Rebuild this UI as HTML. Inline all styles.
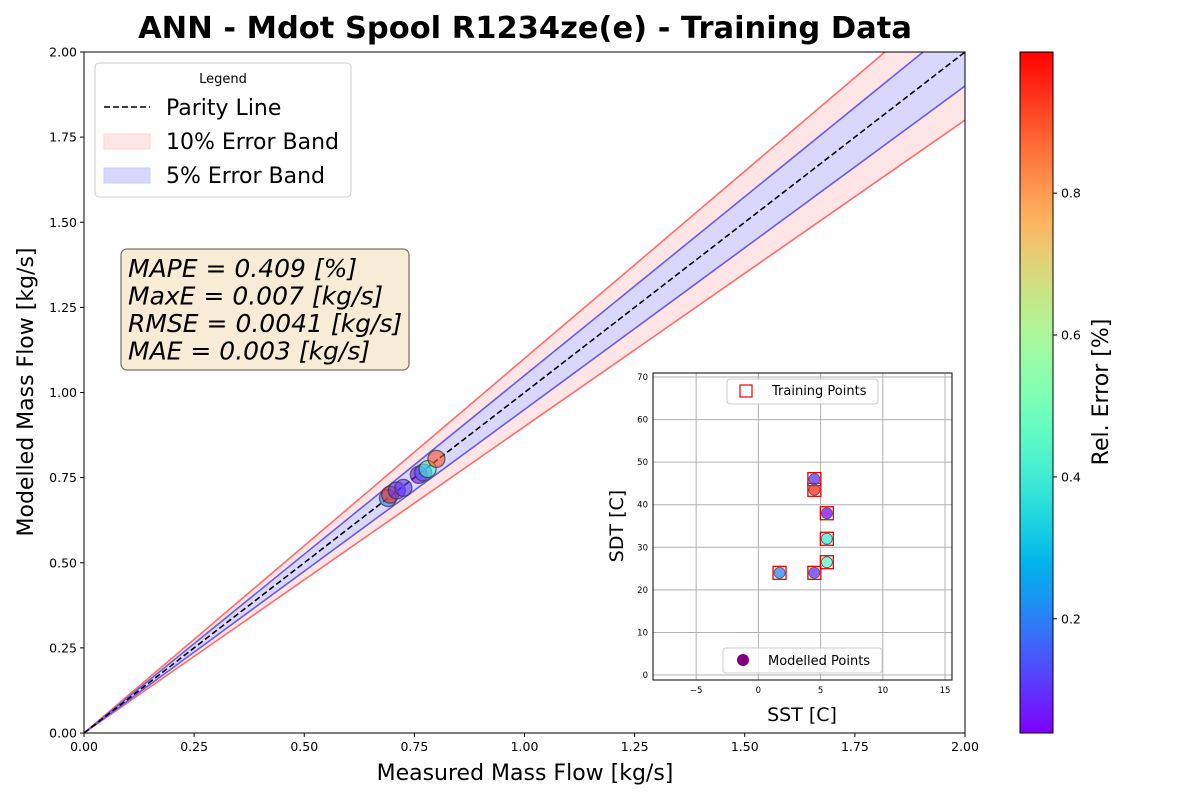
<!DOCTYPE html>
<html><head><meta charset="utf-8"><style>body{margin:0;background:#fff}svg{display:block;font-family:"DejaVu Sans","Liberation Sans",sans-serif}</style></head>
<body>
<svg id="chart" width="1200" height="800" xmlns="http://www.w3.org/2000/svg">
<defs>
<clipPath id="mainclip"><rect x="84" y="52" width="881" height="681"/></clipPath>
<linearGradient id="cbgrad" x1="0" y1="1" x2="0" y2="0"></linearGradient>
</defs>
<g id="main"></g>
<g id="inset"></g>
<g id="cbar"></g>
</svg>
<script>
const mainTicks = [0, 0.25, 0.5, 0.75, 1.0, 1.25, 1.5, 1.75, 2.0];
const mainTickLabels = ["0.00","0.25","0.50","0.75","1.00","1.25","1.50","1.75","2.00"];
const measured = [0.69, 0.695, 0.71, 0.725, 0.76, 0.77, 0.78, 0.80];
const modelled = [0.69, 0.70, 0.712, 0.72, 0.758, 0.765, 0.775, 0.805];
const relErr = [0.2, 0.95, 0.1, 0.1, 0.05, 0.15, 0.42, 0.9];
const insetSST = [1.7, 4.5, 5.5, 5.5, 5.5, 4.5, 4.5];
const insetSDT = [24, 24, 26.5, 32, 38, 43.5, 46];
const insetErr = [0.2, 0.1, 0.45, 0.4, 0.05, 0.95, 0.1];
const insetXTicks = [-5, 0, 5, 10, 15];
const insetYTicks = [0, 10, 20, 30, 40, 50, 60, 70];
const cbTicks = [0.2, 0.4, 0.6, 0.8];
const metrics = ["MAPE = 0.409 [%]", "MaxE = 0.007 [kg/s]", "RMSE = 0.0041 [kg/s]", "MAE = 0.003 [kg/s]"];

const NS = "http://www.w3.org/2000/svg";
function mk(tag, attrs, parent, text){const e=document.createElementNS(NS,tag);for(const k in attrs)e.setAttribute(k,attrs[k]);if(text!==undefined)e.textContent=text;parent.appendChild(e);return e;}
function rainbow(t){t=Math.max(0,Math.min(1,t));const r=Math.min(1,Math.abs(2*t-0.5)),g=Math.sin(Math.PI*t),b=Math.cos(Math.PI/2*t);return `rgb(${Math.round(r*255)},${Math.round(g*255)},${Math.round(b*255)})`;}
const vmin=0.039, vmax=0.999;
const cnorm=v=>(v-vmin)/(vmax-vmin);

const X0=84,X1=965,Y0=733,Y1=52;
const sx=v=>X0+(v/2)*(X1-X0), sy=v=>Y0-(v/2)*(Y0-Y1);
const main=document.getElementById('main');
const svg=document.getElementById('chart');
let t=mk('text',{x:525,y:38,'text-anchor':'middle','font-size':30.5,'font-weight':'bold'},svg,"ANN - Mdot Spool R1234ze(e) - Training Data");


const bands=mk('g',{'clip-path':'url(#mainclip)'},main);

function band(lo,hi,fill,name){const p=mk('polygon',{points:`${sx(0)},${sy(0)} ${sx(2)},${sy(2*hi)} ${sx(2)},${sy(2*lo)}`,fill:fill},bands);}
band(0.9,1.1,'#ffe5e5','band-10pct');
band(0.95,1.05,'#d9d8fc','band-5pct');
function line(k,col,name){const l=mk('line',{x1:sx(0),y1:sy(0),x2:sx(2),y2:sy(2*k),stroke:col,'stroke-width':1.6},bands);}
line(1.1,'#ff6b6b','upper-10pct-line');line(0.9,'#ff6b6b','lower-10pct-line');
line(1.05,'#6a5ae8','upper-5pct-line');line(0.95,'#6a5ae8','lower-5pct-line');
let pl=mk('line',{x1:sx(0),y1:sy(0),x2:sx(2),y2:sy(2),stroke:'#000','stroke-width':1.6,'stroke-dasharray':'6,3'},bands);

measured.forEach((m,i)=>{const c=mk('circle',{cx:sx(m),cy:sy(modelled[i]),r:8.5,fill:rainbow(cnorm(relErr[i])),'fill-opacity':0.6,stroke:'#333','stroke-opacity':0.7,'stroke-width':1.3},bands);});
let fr=mk('rect',{x:X0,y:Y1,width:X1-X0,height:Y0-Y1,fill:'none',stroke:'#000','stroke-width':1},main);

mainTicks.forEach((v,i)=>{
 mk('line',{x1:sx(v),y1:Y0,x2:sx(v),y2:Y0+4,stroke:'#000'},main);
 let a=mk('text',{x:sx(v),y:Y0+18,'text-anchor':'middle','font-size':12.5},main,mainTickLabels[i]);
 mk('line',{x1:X0-4,y1:sy(v),x2:X0,y2:sy(v),stroke:'#000'},main);
 let b=mk('text',{x:X0-7,y:sy(v)+4.5,'text-anchor':'end','font-size':12.5},main,mainTickLabels[i]);
});
t=mk('text',{x:525,y:780,'text-anchor':'middle','font-size':22},main,"Measured Mass Flow [kg/s]");
t=mk('text',{x:33,y:392,'text-anchor':'middle','font-size':22,transform:'rotate(-90 33 392)'},main,"Modelled Mass Flow [kg/s]");

const lg=mk('g',{},main);
mk('rect',{x:95,y:63,width:256,height:134,rx:4,fill:'#fff','fill-opacity':0.85,stroke:'#ccc'},lg);
mk('text',{x:223,y:83,'text-anchor':'middle','font-size':13},lg,"Legend");
mk('line',{x1:104,y1:107,x2:150,y2:107,stroke:'#000','stroke-width':1.6,'stroke-dasharray':'6,3'},lg);
mk('rect',{x:104,y:134,width:46,height:15,fill:'#ffe5e5',stroke:'#ffd5d5'},lg);
mk('rect',{x:104,y:168,width:46,height:15,fill:'#d9d8fc',stroke:'#ccccf8'},lg);
["Parity Line","10% Error Band","5% Error Band"].forEach((s,i)=>{let e=mk('text',{x:166,y:115+i*34,'font-size':22},lg,s);});

const mb=mk('g',{},main);
mk('rect',{x:121,y:249,width:288,height:121,rx:6,fill:'#f8ecd6',stroke:'#776f66','stroke-width':1.2},mb);
metrics.forEach((s,i)=>{let e=mk('text',{x:128,y:277+i*27.5,'font-size':25,'font-style':'italic'},mb,s);});

const inset=document.getElementById('inset');
const IX0=653,IX1=952,IY0=680,IY1=373;
const ix=v=>IX0+(v+8.47)/(15.56+8.47)*(IX1-IX0), iy=v=>IY0-(v+1.17)/(70.94+1.17)*(IY0-IY1);
mk('rect',{x:IX0,y:IY1,width:IX1-IX0,height:IY0-IY1,fill:'#fff'},inset);
insetXTicks.forEach(v=>{mk('line',{x1:ix(v),y1:IY1,x2:ix(v),y2:IY0,stroke:'#b0b0b0','stroke-width':1},inset);let e=mk('text',{x:ix(v),y:IY0+13,'text-anchor':'middle','font-size':8.5},inset,v<0?'\u2212'+(-v):String(v));});
insetYTicks.forEach(v=>{mk('line',{x1:IX0,y1:iy(v),x2:IX1,y2:iy(v),stroke:'#b0b0b0','stroke-width':1},inset);let e=mk('text',{x:IX0-5,y:iy(v)+3,'text-anchor':'end','font-size':8.5},inset,String(v));});
insetSST.forEach((v,i)=>{let r=mk('rect',{x:ix(v)-6.5,y:iy(insetSDT[i])-6.5,width:13,height:13,fill:'none',stroke:'#e00','stroke-width':1.3},inset);});
insetSST.forEach((v,i)=>{let c=mk('circle',{cx:ix(v),cy:iy(insetSDT[i]),r:5.5,fill:rainbow(cnorm(insetErr[i])),'fill-opacity':0.75,stroke:'#555','stroke-width':0.8},inset);});
mk('rect',{x:IX0,y:IY1,width:IX1-IX0,height:IY0-IY1,fill:'none',stroke:'#000'},inset);
let il=mk('g',{},inset);
mk('rect',{x:727,y:379,width:151,height:25,rx:3,fill:'#fff','fill-opacity':0.85,stroke:'#ccc'},il);
mk('rect',{x:740,y:385,width:12,height:12,fill:'none',stroke:'#e00','stroke-width':1.2},il);
mk('text',{x:772,y:395,'font-size':13},il,"Training Points");
il=mk('g',{},inset);
mk('rect',{x:723,y:648,width:159,height:25,rx:3,fill:'#fff','fill-opacity':0.85,stroke:'#ccc'},il);
mk('circle',{cx:743,cy:660,r:6,fill:'#800080'},il);
mk('text',{x:768,y:665,'font-size':13},il,"Modelled Points");
t=mk('text',{x:802,y:721,'text-anchor':'middle','font-size':19},inset,"SST [C]");
t=mk('text',{x:623,y:526,'text-anchor':'middle','font-size':19,transform:'rotate(-90 623 526)'},inset,"SDT [C]");

const g=document.getElementById('cbgrad');
for(let k=0;k<=20;k++){mk('stop',{offset:(k/20),'stop-color':rainbow(k/20)},g);}
const cb=document.getElementById('cbar');
const CY0=733,CY1=52;
const cy=v=>CY0-(v-vmin)/(vmax-vmin)*(CY0-CY1);
mk('rect',{x:1020,y:CY1,width:33,height:CY0-CY1,fill:'url(#cbgrad)',stroke:'#000'},cb);
cbTicks.forEach(v=>{mk('line',{x1:1053,y1:cy(v),x2:1057,y2:cy(v),stroke:'#000'},cb);let e=mk('text',{x:1061,y:cy(v)+4.5,'font-size':12.5},cb,v.toFixed(1));});
t=mk('text',{x:1108,y:392,'text-anchor':'middle','font-size':22,transform:'rotate(-90 1108 392)'},cb,"Rel. Error [%]");
</script>
</body></html>
